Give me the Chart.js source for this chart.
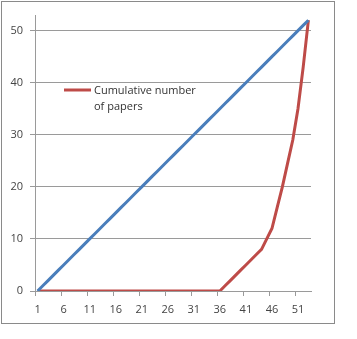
<!DOCTYPE html>
<html>
<head>
<meta charset="utf-8">
<script src="https://cdn.jsdelivr.net/npm/chart.js@4/dist/chart.umd.min.js"></script>
<style>
  html, body { margin: 0; padding: 0; background: #fff; }
  #wrap { position: relative; width: 357px; height: 339px; }
</style>
</head>
<body>
<div id="wrap"><canvas id="chart" width="357" height="339"></canvas></div>
<script>
// ─── DATA ────────────────────────────────────────────────────
const categories = [1,2,3,4,5,6,7,8,9,10,11,12,13,14,15,16,17,18,19,20,21,22,23,24,25,26,27,28,29,30,
  31,32,33,34,35,36,37,38,39,40,41,42,43,44,45,46,47,48,49,50,51,52,53];

const diagonal = [0,1,2,3,4,5,6,7,8,9,10,11,12,13,14,15,16,17,18,19,20,21,22,23,24,25,26,27,28,29,
  30,31,32,33,34,35,36,37,38,39,40,41,42,43,44,45,46,47,48,49,50,51,52];

const cumulativePapers = [0,0,0,0,0,0,0,0,0,0,0,0,0,0,0,0,0,0,0,0,0,0,0,0,0,0,0,0,0,0,
  0,0,0,0,0,0,1,2,3,4,5,6,7,8,10,12,16,20,24.5,29,35,43,52];

const yTicks = [0, 10, 20, 30, 40, 50];
const legendLabel = ['Cumulative number', 'of papers'];

// ─── STYLE ───────────────────────────────────────────────────
const BLUE = '#4a7ebb';
const RED = '#be4b48';
const GRID = '#9a9a9a';
const FONT = { family: '"Open Sans", Lato, sans-serif', size: 11 };

// outer frame + in-plot legend (only the red series has a legend entry)
const framePlugin = {
  id: 'frame',
  afterDraw(chart) {
    const ctx = chart.ctx;
    ctx.save();
    ctx.strokeStyle = '#8a8a8a';
    ctx.lineWidth = 1;
    ctx.strokeRect(1.5, 1.5, 333, 322);

    ctx.strokeStyle = RED;
    ctx.lineWidth = 3;
    ctx.beginPath();
    ctx.moveTo(64, 90);
    ctx.lineTo(91, 90);
    ctx.stroke();

    ctx.fillStyle = '#333';
    ctx.font = '11px ' + FONT.family;
    ctx.textBaseline = 'middle';
    ctx.fillText(legendLabel[0], 94, 91);
    ctx.fillText(legendLabel[1], 94, 107);
    ctx.restore();
  }
};

new Chart(document.getElementById('chart'), {
  type: 'line',
  data: {
    labels: categories,
    datasets: [
      {
        label: 'Diagonal',
        data: diagonal,
        borderColor: BLUE,
        borderWidth: 3,
        pointRadius: 0,
        tension: 0
      },
      {
        label: legendLabel.join(' '),
        data: cumulativePapers,
        borderColor: RED,
        borderWidth: 3,
        pointRadius: 0,
        tension: 0
      }
    ]
  },
  options: {
    responsive: false,
    animation: false,
    layout: { padding: { left: 0, top: 15, right: 46, bottom: 0 } },
    plugins: {
      legend: { display: false },
      tooltip: { enabled: false }
    },
    scales: {
      x: {
        offset: true,
        afterFit: s => { s.height = 48; },
        border: { color: GRID, width: 1 },
        grid: {
          offset: true,
          drawOnChartArea: false,
          tickLength: 5,
          color: c => (c.index % 5 === 0 ? GRID : 'rgba(0,0,0,0)')
        },
        ticks: {
          autoSkip: false,
          maxRotation: 0,
          minRotation: 0,
          padding: 7,
          color: '#444',
          font: FONT,
          callback: (v, i) => (i % 5 === 0 ? String(categories[i]) : '')
        }
      },
      y: {
        min: 0,
        max: 53,
        afterFit: s => { s.width = 35; },
        afterBuildTicks: s => { s.ticks = yTicks.map(v => ({ value: v })); },
        border: { color: GRID, width: 1 },
        grid: { color: GRID, tickLength: 5 },
        ticks: {
          padding: 7,
          color: '#444',
          font: FONT
        }
      }
    }
  },
  plugins: [framePlugin]
});
</script>
</body>
</html>
